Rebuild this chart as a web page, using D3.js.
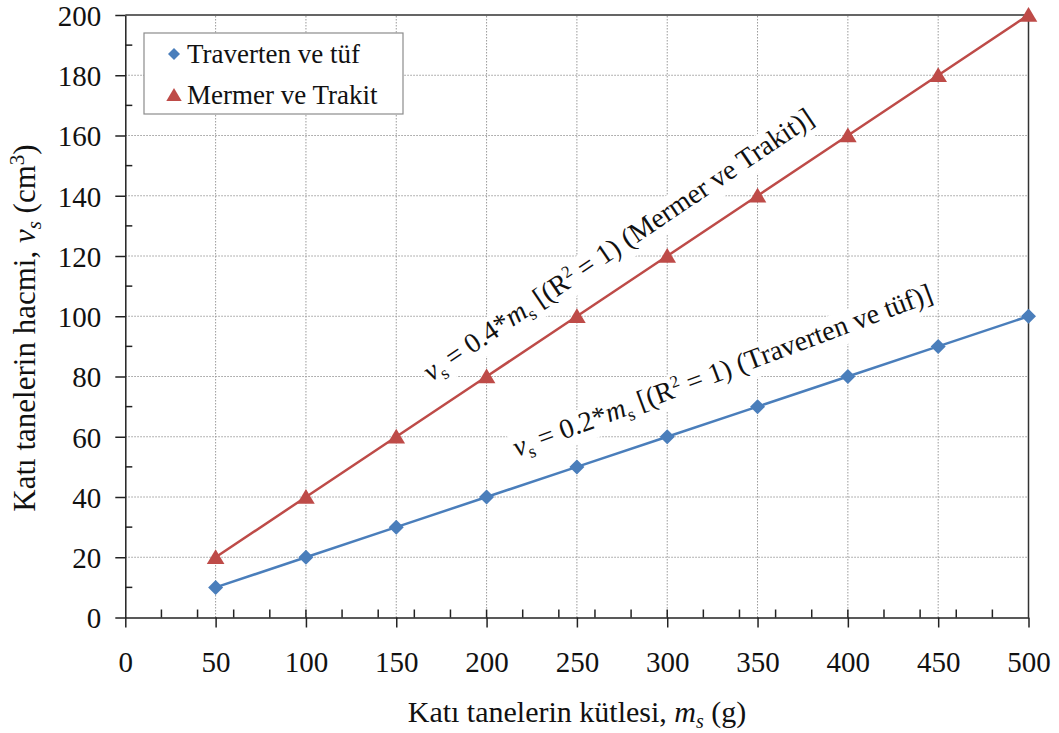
<!DOCTYPE html>
<html>
<head>
<meta charset="utf-8">
<script src="https://cdn.jsdelivr.net/npm/d3@7"></script>
<style>
  body { margin: 0; background: #fff; }
  svg { display: block; }
</style>
</head>
<body>
<svg id="chart" width="1059" height="733"></svg>
<script>
// data
const masses = [50, 100, 150, 200, 250, 300, 350, 400, 450, 500];
const travertenTuf = [10, 20, 30, 40, 50, 60, 70, 80, 90, 100];
const mermerTrakit = [20, 40, 60, 80, 100, 120, 140, 160, 180, 200];
const xTicks = [0, 50, 100, 150, 200, 250, 300, 350, 400, 450, 500];
const yTicks = [0, 20, 40, 60, 80, 100, 120, 140, 160, 180, 200];

const blue = "#4a7ebb";
const red = "#be4b48";
const serif = '"Liberation Serif", "Times New Roman", serif';

const svg = d3.select("#chart");
const x = d3.scaleLinear().domain([0, 500]).range([125.3, 1028.5]);
const y = d3.scaleLinear().domain([0, 200]).range([617.5, 15]);

// gridlines (dotted)
const grid = svg.append("g").attr("stroke", "#9a9a9a").attr("stroke-width", 1).attr("stroke-dasharray", "1.5,1.5");
grid.selectAll(".gx")
  .data(xTicks.filter(d => d > 0 && d < 500))
  .enter().append("line")
  .attr("x1", d => x(d)).attr("x2", d => x(d))
  .attr("y1", y(0)).attr("y2", y(200));
grid.selectAll(".gy")
  .data(yTicks.filter(d => d > 0 && d < 200))
  .enter().append("line")
  .attr("x1", x(0)).attr("x2", x(500))
  .attr("y1", d => y(d)).attr("y2", d => y(d));

// top and right border
svg.append("path")
  .attr("d", `M${x(0)},${y(200)}H${x(500)}V${y(0)}`)
  .attr("fill", "none").attr("stroke", "#333").attr("stroke-width", 1.5);

// x axis: major outside, minor (every 20) inside
const xAxis = svg.append("g").attr("transform", `translate(0,${y(0)})`);
xAxis.call(d3.axisBottom(x).tickValues(xTicks).tickSize(10).tickSizeOuter(0).tickFormat(d3.format("d")));
xAxis.selectAll(".domain").attr("stroke", "#222").attr("stroke-width", 1.5);
xAxis.selectAll(".tick line").attr("stroke", "#222").attr("stroke-width", 1.5);
xAxis.selectAll(".tick text")
  .style("font-family", serif).style("font-size", "29px").attr("fill", "#111")
  .attr("y", 54).attr("dy", 0);
xAxis.append("g").selectAll("line")
  .data(d3.range(20, 500, 20))
  .enter().append("line")
  .attr("x1", d => x(d)).attr("x2", d => x(d))
  .attr("y1", 0).attr("y2", -8)
  .attr("stroke", "#222").attr("stroke-width", 1.5);

// y axis: major outside, minor (every 10) inside
const yAxis = svg.append("g").attr("transform", `translate(${x(0)},0)`);
yAxis.call(d3.axisLeft(y).tickValues(yTicks).tickSize(10).tickSizeOuter(0).tickFormat(d3.format("d")));
yAxis.selectAll(".domain").attr("stroke", "#222").attr("stroke-width", 1.5);
yAxis.selectAll(".tick line").attr("stroke", "#222").attr("stroke-width", 1.5);
yAxis.selectAll(".tick text")
  .style("font-family", serif).style("font-size", "29px").attr("fill", "#111")
  .attr("x", -24).attr("dy", "0.36em");
yAxis.append("g").selectAll("line")
  .data(d3.range(10, 200, 20))
  .enter().append("line")
  .attr("x1", 0).attr("x2", 7)
  .attr("y1", d => y(d)).attr("y2", d => y(d))
  .attr("stroke", "#222").attr("stroke-width", 1.5);

// axis titles
const xt = svg.append("text")
  .attr("x", 577).attr("y", 722)
  .attr("text-anchor", "middle").style("font-family", serif).style("font-size", "30px").attr("fill", "#111");
xt.append("tspan").text("Katı tanelerin kütlesi, ");
xt.append("tspan").attr("font-style", "italic").text("m");
xt.append("tspan").attr("font-style", "italic").style("font-size", "20px").attr("dy", 6).text("s");
xt.append("tspan").attr("dy", -6).text(" (g)");

const yt = svg.append("text")
  .attr("transform", "translate(35,328) rotate(-90)")
  .attr("text-anchor", "middle").style("font-family", serif).style("font-size", "31px").attr("fill", "#111");
yt.append("tspan").text("Katı tanelerin hacmi, ");
yt.append("tspan").attr("font-style", "italic").text("v");
yt.append("tspan").attr("font-style", "italic").style("font-size", "21px").attr("dy", 6).text("s");
yt.append("tspan").attr("dy", -6).text(" (cm");
yt.append("tspan").style("font-size", "21px").attr("dy", -11).text("3");
yt.append("tspan").attr("dy", 11).text(")");

// annotations along the lines, on white background
function annotate(tx, ty, angle, coef, label) {
  const g = svg.append("g").attr("transform", `translate(${tx},${ty}) rotate(${angle})`);
  const bg = g.append("rect").attr("fill", "#fff");
  const t = g.append("text").style("font-family", serif).style("font-size", "28px").attr("fill", "#111");
  t.append("tspan").attr("font-style", "italic").text("v");
  t.append("tspan").style("font-size", "18px").attr("dy", 6).text("s");
  t.append("tspan").attr("dy", -6).text(` = ${coef}*`);
  t.append("tspan").attr("font-style", "italic").text("m");
  t.append("tspan").style("font-size", "18px").attr("dy", 6).text("s");
  t.append("tspan").attr("dy", -6).text(" [(R");
  t.append("tspan").style("font-size", "17px").attr("dy", -10).text("2");
  t.append("tspan").attr("dy", 10).text(` = 1) (${label})]`);
  const b = t.node().getBBox();
  bg.attr("x", b.x - 2).attr("y", b.y + 2).attr("width", b.width + 4).attr("height", b.height - 2);
}
annotate(431, 382, -34, "0.4", "Mermer ve Trakit");
annotate(517, 457, -20.5, "0.2", "Traverten ve tüf");

// series lines
const line = d3.line().x(d => x(d[0])).y(d => y(d[1]));
const blueData = masses.map((m, i) => [m, travertenTuf[i]]);
const redData = masses.map((m, i) => [m, mermerTrakit[i]]);

svg.append("path").datum(blueData).attr("d", line)
  .attr("fill", "none").attr("stroke", blue).attr("stroke-width", 2.5);
svg.append("path").datum(redData).attr("d", line)
  .attr("fill", "none").attr("stroke", red).attr("stroke-width", 2.5);

const diamond = s => `M0,${-s}L${s},0L0,${s}L${-s},0Z`;
const triangle = s => `M0,${-s}L${s * 1.1},${s * 0.85}L${-s * 1.1},${s * 0.85}Z`;

svg.append("g").selectAll("path")
  .data(blueData).enter().append("path")
  .attr("transform", d => `translate(${x(d[0])},${y(d[1])})`)
  .attr("d", diamond(7.5)).attr("fill", blue);
svg.append("g").selectAll("path")
  .data(redData).enter().append("path")
  .attr("transform", d => `translate(${x(d[0])},${y(d[1])})`)
  .attr("d", triangle(8)).attr("fill", red);

// legend
const legend = svg.append("g");
legend.append("rect")
  .attr("x", 144).attr("y", 33).attr("width", 259).attr("height", 81)
  .attr("fill", "#fff").attr("stroke", "#8c8c8c").attr("stroke-width", 1.2);
const entries = [
  { name: "Traverten ve tüf", color: blue, shape: diamond(6), yy: 54 },
  { name: "Mermer ve Trakit", color: red, shape: triangle(7), yy: 95 }
];
entries.forEach(e => {
  legend.append("path").attr("transform", `translate(174,${e.yy})`).attr("d", e.shape).attr("fill", e.color);
  legend.append("text").attr("x", 187).attr("y", e.yy + 9)
    .style("font-family", serif).style("font-size", "27px").attr("fill", "#111").text(e.name);
});
</script>
</body>
</html>
